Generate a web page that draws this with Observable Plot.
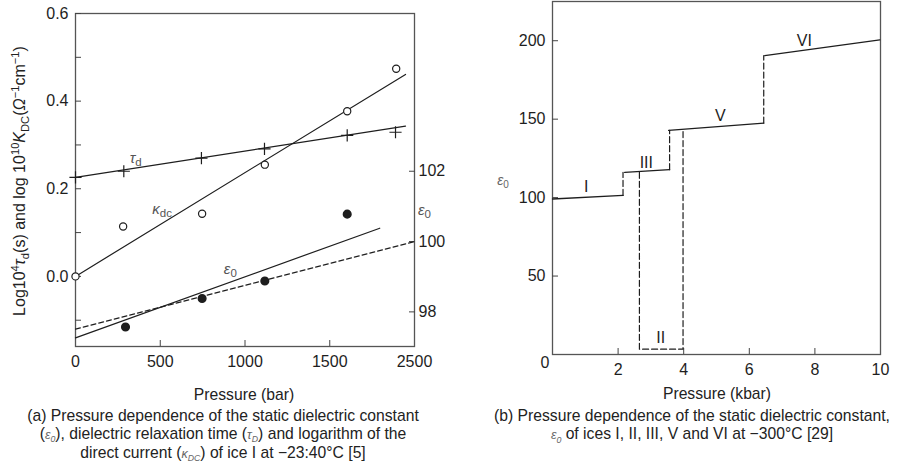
<!DOCTYPE html>
<html>
<head>
<meta charset="utf-8">
<script src="https://cdn.jsdelivr.net/npm/d3@7"></script>
<script src="https://cdn.jsdelivr.net/npm/@observablehq/plot@0.6"></script>
<style>
  body { margin: 0; background: #fff; }
  #wrap { position: relative; width: 902px; height: 467px; font-family: "Liberation Sans", Arial, sans-serif; color: #222; overflow: hidden; }
  .abs { position: absolute; white-space: nowrap; }
  .ctr { transform: translate(-50%, -50%); text-align: center; }
  .cap { font-size: 15.7px; line-height: 17.5px; }
  .sym { color: #666; font-style: italic; font-size: 12.5px; }
  sub, sup { font-size: 70%; line-height: 0; }
</style>
</head>
<body>
<div id="wrap">
  <div id="left" class="abs" style="left:0;top:0"></div>
  <div id="right" class="abs" style="left:450px;top:0"></div>
  <div class="abs" style="left:20px;top:181px;transform:translate(-50%,-50%) rotate(-90deg);font-size:16px;">Log10<sup>4</sup><i>τ</i><sub>d</sub>(s) and log 10<sup>10</sup><i>K</i><sub>DC</sub>(<i>Ω</i><sup>−1</sup>cm<sup>−1</sup>)</div>
  <div class="abs ctr" style="left:244px;top:395px;font-size:15.7px;">Pressure (bar)</div>
  <div class="abs cap" style="left:223px;top:435px;transform:translate(-50%,-50%);text-align:center;">(a) Pressure dependence of the static dielectric constant<br>(<span class="sym">ε<sub>0</sub></span>), dielectric relaxation time (<span class="sym">τ<sub>D</sub></span>) and logarithm of the<br>direct current (<span class="sym">κ<sub>DC</sub></span>) of ice I at −23:40°C [5]</div>
  <div class="abs ctr" style="left:717px;top:394px;font-size:15.7px;">Pressure (kbar)</div>
  <div class="abs cap" style="left:692px;top:426px;transform:translate(-50%,-50%);text-align:center;line-height:18.3px;">(b) Pressure dependence of the static dielectric constant,<br><span class="sym">ε<sub>0</sub></span> of ices I, II, III, V and VI at −300°C [29]</div>
</div>
<script>
// ---------- Panel (a) data ----------
const tauP = [0, 285, 743, 1115, 1603, 1888];
const tauV = [0.226, 0.240, 0.270, 0.291, 0.322, 0.329];
const kapP = [0, 281, 747, 1117, 1603, 1892];
const kapV = [0.0, 0.114, 0.143, 0.255, 0.377, 0.474];
const epsP = [295, 747, 1117, 1603];
const epsV = [97.57, 98.38, 98.88, 100.78];
const tauFitP = [0, 1947], tauFitV = [0.226, 0.343];
const kapFitP = [0, 1947], kapFitV = [0.0, 0.461];
const epsFitP = [0, 1795], epsFitV = [97.26, 100.38];
const epsDashP = [0, 2000], epsDashV = [97.51, 100.0];
const xTicksA = [0, 500, 1000, 1500, 2000];
const xTickLabelsA = ["0", "500", "1000", "1500", "2500"];
const yMajorA = [0.0, 0.2, 0.4, 0.6];
const yMinorA = [-0.1, 0.1, 0.3, 0.5];
const epsTicks = [98, 100, 102];
const labelsA = [
  {p: 353, v: 0.269, main: "τ", sub: "d"},
  {p: 497, v: 0.154, main: "κ", sub: "dc"},
  {p: 914, v: 0.017, main: "ε", sub: "0"},
  {p: 2059, v: 0.150, main: "ε", sub: "0"}
];

// ---------- Panel (b) data ----------
const solidSegs = [
  {seg: "I",   p: [0, 2.15],    e: [99.1, 101.4]},
  {seg: "III", p: [2.2, 3.57],  e: [116.1, 117.8]},
  {seg: "V",   p: [3.54, 6.44], e: [142.8, 147.5]},
  {seg: "VI",  p: [6.47, 9.98], e: [190.5, 200.5]}
];
const dashSegs = [
  {seg: "I-III", p: [2.15, 2.15], e: [101.4, 116.1]},
  {seg: "III-V", p: [3.57, 3.57], e: [117.8, 142.8]},
  {seg: "V-VI",  p: [6.44, 6.44], e: [147.5, 190.5]},
  {seg: "II",    p: [2.65, 2.65, 3.98, 3.98], e: [116.1, 3.4, 3.4, 142.8]}
];
const phaseNames = ["I", "II", "III", "V", "VI"];
const phaseP = [1.03, 3.3, 2.86, 5.12, 7.68];
const phaseE = [106.7, 10.8, 122, 152, 200];
const yLabelB = {p: -1.5, e: 111, main: "ε", sub: "0"};
const xTicksB = [2, 4, 6, 8, 10];
const xInnerB = [2, 4, 6, 8];
const yTicksB = [50, 100, 150, 200];

const ink = "#1e1e1e";
const font = "'Liberation Sans', Arial, sans-serif";
const flat = (segs) => segs.flatMap(s => s.p.map((p, i) => ({seg: s.seg, p, e: s.e[i]})));
const pts = (P, V) => P.map((p, i) => ({p, v: V[i]}));

// map epsilon0 onto the left axis
const eps2y = d3.scaleLinear().domain([98, 102]).range([-0.081, 0.240]);

const left = Plot.plot({
  width: 450, height: 370,
  marginLeft: 75, marginRight: 36, marginTop: 13, marginBottom: 24,
  style: {fontFamily: font, fontSize: "16px", color: ink, background: "white"},
  x: {domain: [0, 2000], label: null},
  y: {domain: [-0.16, 0.6], label: null},
  marks: [
    Plot.frame({stroke: "#555", strokeWidth: 1.3}),
    Plot.axisY(yMajorA, {anchor: "left", tickSize: 0, tickPadding: 7, tickFormat: d => d.toFixed(1), label: null}),
    Plot.axisY(yMajorA.concat(yMinorA), {anchor: "left", tickSize: 6, dx: 6, tickFormat: () => "", label: null, stroke: "#444"}),
    Plot.axisY(epsTicks.map(eps2y), {anchor: "right", tickSize: 0, tickPadding: 4, tickFormat: d => String(Math.round(eps2y.invert(d))), label: null}),
    Plot.axisY(epsTicks.map(eps2y), {anchor: "right", tickSize: 6, dx: -6, tickFormat: () => "", label: null, stroke: "#444"}),
    Plot.axisX(xTicksA, {anchor: "bottom", tickSize: 0, tickPadding: 9, tickFormat: d => xTickLabelsA[xTicksA.indexOf(d)], label: null}),
    Plot.axisX(xTicksA.slice(1, -1), {anchor: "bottom", tickSize: 6, dy: -6, tickFormat: () => "", label: null, stroke: "#444"}),
    Plot.line(pts(tauFitP, tauFitV), {x: "p", y: "v", stroke: ink, strokeWidth: 1.2}),
    Plot.line(pts(kapFitP, kapFitV), {x: "p", y: "v", stroke: ink, strokeWidth: 1.2}),
    Plot.line(pts(epsFitP, epsFitV.map(eps2y)), {x: "p", y: "v", stroke: ink, strokeWidth: 1.2}),
    Plot.line(pts(epsDashP, epsDashV.map(eps2y)), {x: "p", y: "v", stroke: ink, strokeWidth: 1.2, strokeDasharray: "5,3"}),
    Plot.dot(pts(tauP, tauV), {x: "p", y: "v", symbol: "plus", r: 4, stroke: ink, strokeWidth: 1.2}),
    Plot.dot(pts(kapP, kapV), {x: "p", y: "v", r: 3.6, stroke: ink, fill: "white", strokeWidth: 1.2}),
    Plot.dot(pts(epsP, epsV.map(eps2y)), {x: "p", y: "v", r: 3.8, fill: ink, stroke: ink}),
    Plot.text(labelsA, {x: "p", y: "v", text: "main", textAnchor: "end", fontSize: 15, fontStyle: "italic", fill: "#555"}),
    Plot.text(labelsA, {x: "p", y: "v", text: "sub", textAnchor: "start", dy: 4, fontSize: 11.5, fill: "#555"})
  ]
});
document.getElementById("left").appendChild(left);

const right = Plot.plot({
  width: 452, height: 380,
  marginLeft: 102, marginRight: 22, marginTop: 1, marginBottom: 26,
  style: {fontFamily: font, fontSize: "16px", color: ink, background: "white"},
  x: {domain: [0, 10], label: null},
  y: {domain: [0, 225], label: null},
  marks: [
    Plot.frame({stroke: "#555", strokeWidth: 1.3}),
    Plot.axisY(yTicksB, {anchor: "left", tickSize: 0, tickPadding: 7, label: null}),
    Plot.axisY(yTicksB, {anchor: "left", tickSize: 6, dx: 6, tickFormat: () => "", label: null, stroke: "#444"}),
    Plot.axisY([0], {anchor: "left", tickSize: 0, tickPadding: 3, dy: 8, label: null}),
    Plot.axisX(xTicksB, {anchor: "bottom", tickSize: 0, tickPadding: 9, label: null}),
    Plot.axisX(xInnerB, {anchor: "bottom", tickSize: 6, dy: -6, tickFormat: () => "", label: null, stroke: "#444"}),
    Plot.line(flat(solidSegs), {x: "p", y: "e", z: "seg", stroke: ink, strokeWidth: 1.3}),
    Plot.line(flat(dashSegs), {x: "p", y: "e", z: "seg", stroke: ink, strokeWidth: 1.2, strokeDasharray: "6,3"}),
    Plot.text(phaseNames, {x: (d, i) => phaseP[i], y: (d, i) => phaseE[i], text: d => d, fontSize: 16, fill: ink}),
    Plot.text([yLabelB], {x: "p", y: "e", text: "main", textAnchor: "end", fontSize: 14, fontStyle: "italic", fill: "#666"}),
    Plot.text([yLabelB], {x: "p", y: "e", text: "sub", textAnchor: "start", dy: 4, fontSize: 10, fill: "#666"})
  ]
});
document.getElementById("right").appendChild(right);
</script>
</body>
</html>
